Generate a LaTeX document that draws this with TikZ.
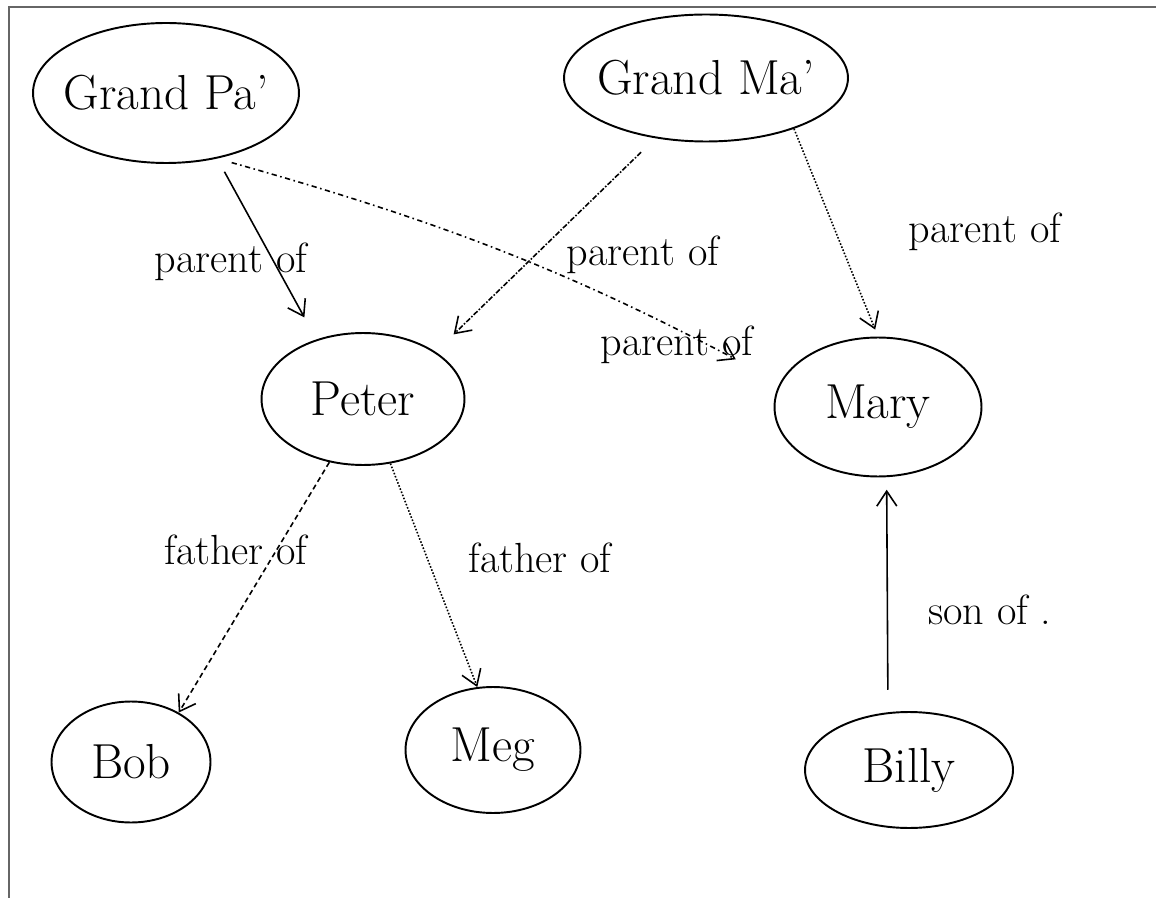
\documentclass[tikz,border=0pt]{standalone}
\usepackage{tikz}
\usetikzlibrary{shapes.geometric,arrows.meta}

\newcommand{\who}[1]{\makebox[0pt]{#1}}

\begin{document}
\begin{tikzpicture}[x=0.02cm, y=-0.02cm, >={Straight Barb[length=3mm,width=4mm]},
    person/.style={draw, ellipse, line width=1.1pt, inner sep=0pt, font=\fontsize{28}{34}\selectfont},
    rel/.style={inner sep=0pt, font=\fontsize{24}{28}\selectfont},
    link/.style={->, line width=0.9pt}]
    \useasboundingbox (0,0) rectangle (1156,898);
    \draw[black!60, line width=1.5pt] (9,898) -- (9,7) -- (1156,7);

    \node[person, minimum width=5.32cm, minimum height=2.8cm] (gp) at (166,93) {\who{Grand Pa'}};
    \node[person, minimum width=5.68cm, minimum height=2.54cm] (gm) at (706,78) {\who{Grand Ma'}};
    \node[person, minimum width=4.06cm, minimum height=2.64cm] (peter) at (363,399) {\who{Peter}};
    \node[person, minimum width=4.14cm, minimum height=2.78cm] (mary) at (878,407) {\who{Mary}};
    \node[person, minimum width=3.18cm, minimum height=2.42cm] (bob) at (131,762) {\who{Bob}};
    \node[person, minimum width=3.5cm, minimum height=2.52cm] (meg) at (493,750) {\who{Meg}};
    \node[person, minimum width=4.16cm, minimum height=2.32cm] (billy) at (909,770) {\who{Billy}};

    \node[rel] (l1) at (231,262) {parent of};
    \node[rel] (l2) at (643,255) {parent of};
    \node[rel] (l3) at (677,345) {parent of};
    \node[rel] (l4) at (985,232) {parent of};
    \node[rel] (l5) at (236,550) {father of};
    \node[rel] (l6) at (540,558) {father of};
    \node[rel] (l7) at (990,610) {son of .};

    \draw[link, shorten <=0.3cm, shorten >=0.5cm] (gp.-52) -- (peter.128);
    \draw[link, dash dot, shorten <=0.3cm, shorten >=1cm] (gp.-52) to[bend left=6] (mary.166);
    \draw[link, densely dash dot, shorten <=0.4cm, shorten >=0.5cm] (gm.-130) -- (peter.33);
    \draw[link, densely dotted, shorten >=0.15cm] (gm.-30) -- (mary.north);
    \draw[link, densely dashed] (peter.-118) -- (bob.46);
    \draw[link, densely dotted] (peter.-67) -- (meg.104);
    \draw[link, shorten <=0.45cm, shorten >=0.25cm] (billy.110) -- (mary.-83);
\end{tikzpicture}
\end{document}
